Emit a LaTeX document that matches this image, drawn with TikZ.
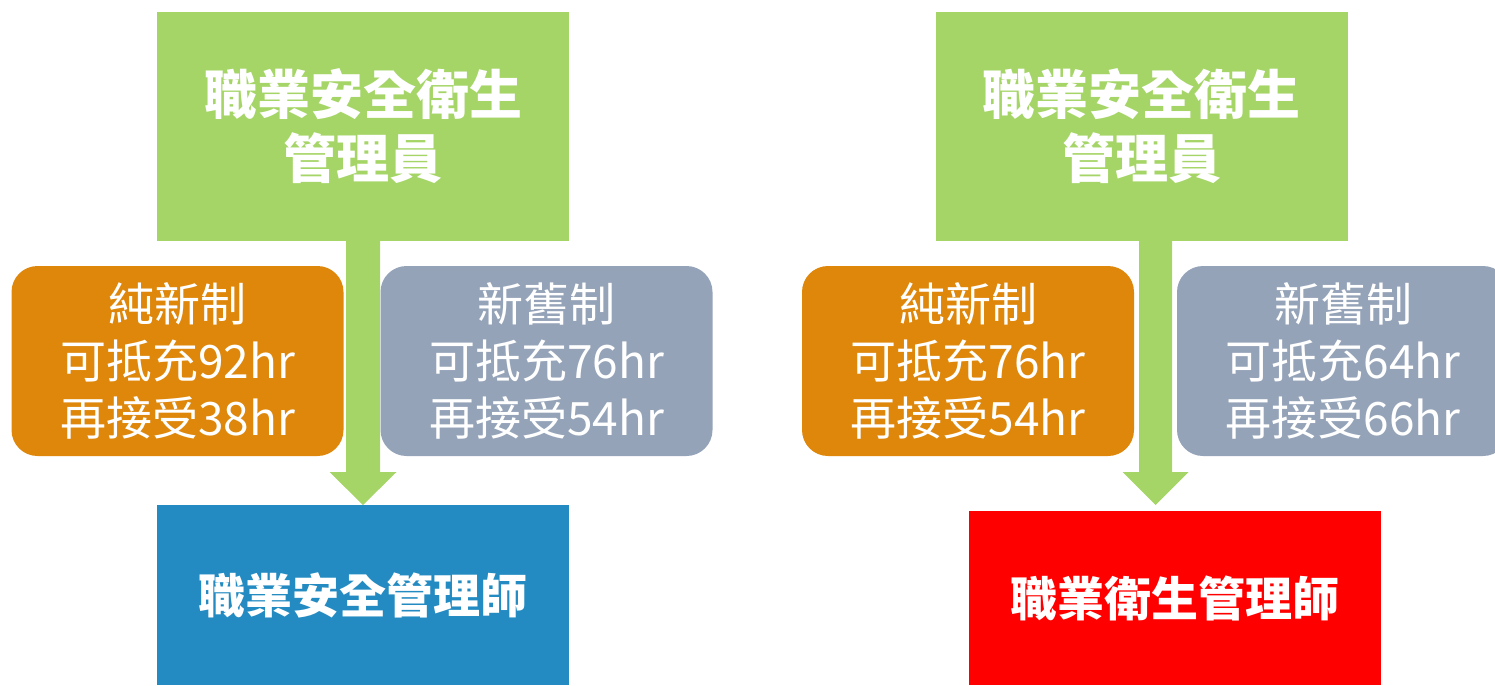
\documentclass[tikz,border=0pt]{standalone}
\usepackage{fontspec}
\newfontfamily\cjk{Noto Sans CJK TC}
\usetikzlibrary{calc}
\definecolor{cgreen}{HTML}{A5D566}
\definecolor{corange}{HTML}{DE870A}
\definecolor{cgray}{HTML}{95A3B8}
\definecolor{cblue}{HTML}{238BC2}
\definecolor{cred}{HTML}{FF0000}
\tikzset{
  box/.style={inner sep=0pt, outer sep=0pt, text=white, align=center},
  titlebox/.style={box, fill=cgreen, minimum width=412pt, minimum height=229pt,
    font=\cjk\bfseries\fontsize{53}{64}\selectfont},
  sidebox/.style={box, rounded corners=26pt, minimum width=332pt, minimum height=190pt,
    font=\cjk\fontsize{46}{57}\selectfont},
  endbox/.style={box, minimum width=412pt, font=\cjk\bfseries\fontsize{47}{56}\selectfont},
  arrowfill/.style={fill=cgreen}
}
\begin{document}
\begin{tikzpicture}[x=1pt,y=-1pt]
\useasboundingbox (0,0) rectangle (1495,685);
\clip (0,0) rectangle (1495,685);
% left group
\node[titlebox] (g1) at (363,126.5) {職業安全衛生\\管理員};
\coordinate (a1top) at (363,240);
\coordinate (a1tip) at (363,505);
\fill[arrowfill] ($(a1top)+(-17,0)$) -- ($(a1tip)+(-17,-33)$) -- ($(a1tip)+(-33.5,-33)$)
  -- (a1tip) -- ($(a1tip)+(33.5,-33)$) -- ($(a1tip)+(17,-33)$) -- ($(a1top)+(17,0)$) -- cycle;
\node[sidebox, fill=corange] (o1) at (177.5,361) {純新制\\可抵充92hr\\再接受38hr};
\node[sidebox, fill=cgray] (s1) at (546.5,361) {新舊制\\可抵充76hr\\再接受54hr};
\node[endbox, fill=cblue, minimum height=180pt] (b1) at (363,595) {職業安全管理師};
% right group
\node[titlebox] (g2) at (1141.5,126.5) {職業安全衛生\\管理員};
\coordinate (a2top) at (1155.5,240);
\coordinate (a2tip) at (1155.5,505);
\fill[arrowfill] ($(a2top)+(-16.5,0)$) -- ($(a2tip)+(-16.5,-33)$) -- ($(a2tip)+(-33,-33)$)
  -- (a2tip) -- ($(a2tip)+(33,-33)$) -- ($(a2tip)+(16.5,-33)$) -- ($(a2top)+(16.5,0)$) -- cycle;
\node[sidebox, fill=corange] (o2) at (968,361) {純新制\\可抵充76hr\\再接受54hr};
\node[sidebox, fill=cgray] (s2) at (1343,361) {新舊制\\可抵充64hr\\再接受66hr};
\node[endbox, fill=cred, minimum height=174pt] (b2) at (1174.5,598) {職業衛生管理師};
\end{tikzpicture}
\end{document}
